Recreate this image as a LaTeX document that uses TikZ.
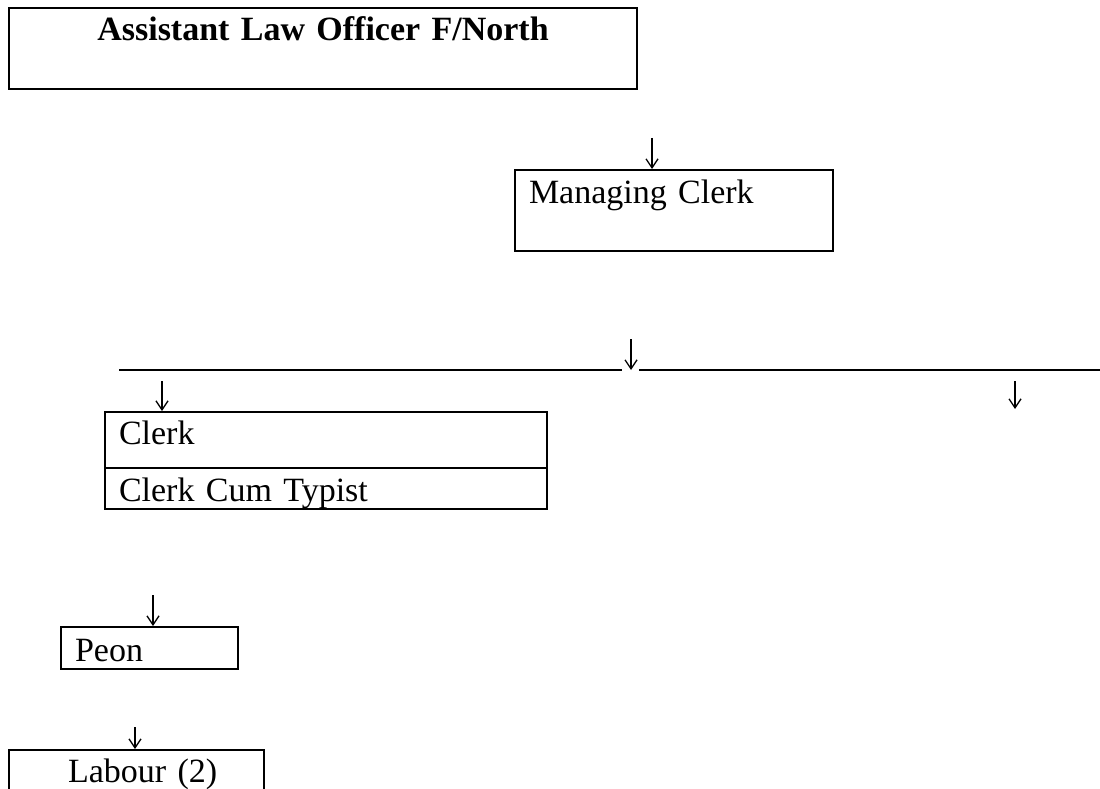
\documentclass[tikz,border=0pt]{standalone}
\usepackage{fontspec}
\setmainfont{Liberation Serif}
\usetikzlibrary{arrows.meta}
\tikzset{
  post/.style={draw, line width=2pt, anchor=north west, inner xsep=14pt, inner ysep=0pt, align=left, font=\fontsize{34}{40}\selectfont},
  down/.style={line width=1.3pt, -{Straight Barb[length=9pt,width=12pt,line width=1.3pt]}},
  rule/.style={line width=1.6pt}
}
\begin{document}
\begin{tikzpicture}[x=1pt, y=-1pt]
\useasboundingbox (0,0) rectangle (1100,789);
\node[post, text width=600pt, align=center, font=\fontsize{34}{40}\selectfont\bfseries, text height=33pt, text depth=48pt] (alo) at (8,7) {Assistant Law Officer F/North};
\node[post, text width=290pt, text height=33pt, text depth=48pt] (mgr) at (514,169) {Managing Clerk};
\node[post, text width=414pt, text height=32pt, text depth=24pt] (clerk) at (104,411) {Clerk};
\node[post, text width=414pt, text height=33pt, text depth=8pt] (typist) at (104,467) {Clerk Cum Typist};
\node[post, text width=149pt, text height=34pt, text depth=8pt] (peon) at (60,626) {Peon};
\node[post, text width=227pt, text height=32pt, text depth=20pt] (labour) at (8,749) {\hspace*{45pt}Labour (2)};
\coordinate (amgr) at (652,138);
\draw[down] (amgr) -- (amgr |- mgr.north);
\coordinate (barl) at (119,370);
\coordinate (barml) at (622,370);
\coordinate (barmr) at (639,370);
\coordinate (barr) at (1100,370);
\draw[rule] (barl) -- (barml);
\draw[rule] (barmr) -- (barr);
\coordinate (amid) at (631,339);
\draw[down] (amid) -- (amid |- barl);
\coordinate (aclerk) at (162,381);
\draw[down] (aclerk) -- (aclerk |- clerk.north);
\coordinate (aright) at (1015,381);
\coordinate (aend) at (1015,409);
\draw[down] (aright) -- (aend);
\coordinate (apeon) at (153,595);
\draw[down] (apeon) -- (apeon |- peon.north);
\coordinate (alabour) at (135,727);
\draw[down] (alabour) -- (alabour |- labour.north);
\end{tikzpicture}
\end{document}
